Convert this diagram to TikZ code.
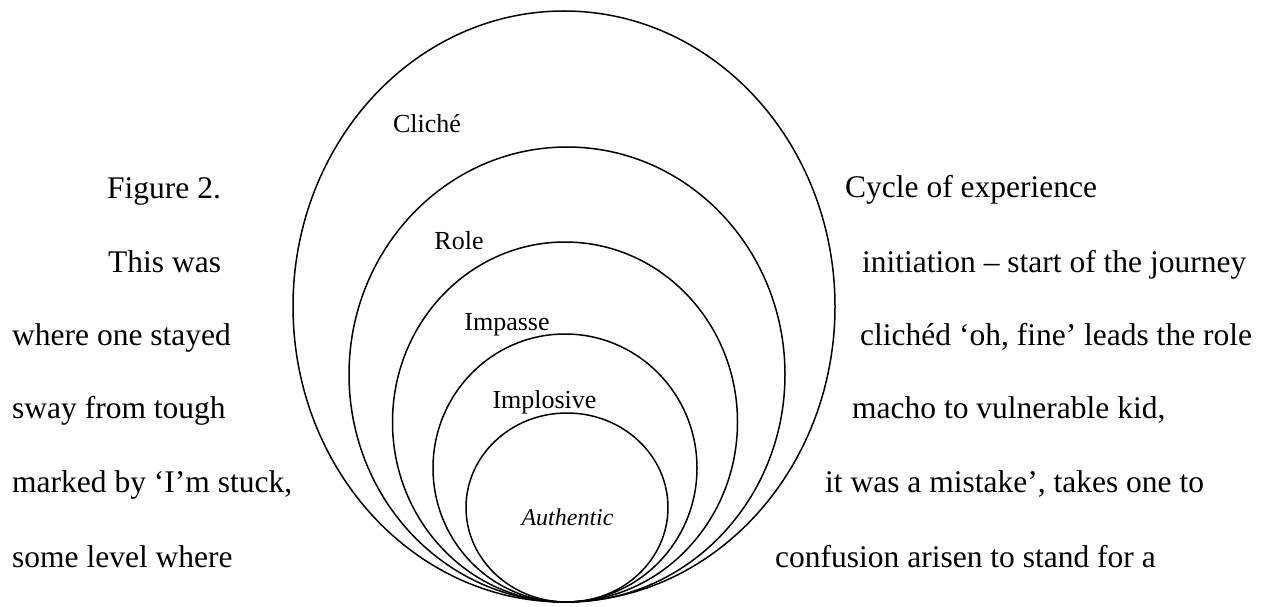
\documentclass[tikz,border=0pt]{standalone}
\usepackage{fontspec}
\setmainfont{Liberation Serif}
\begin{document}
\begin{tikzpicture}[x=1pt,y=-1pt,
  ring/.style={draw=black,line width=1.5pt},
  body/.style={anchor=base west,inner sep=0pt,font=\fontsize{31.5}{36}\selectfont},
  lbl/.style={anchor=base,inner sep=0pt,font=\fontsize{26}{30}\selectfont},
  lblit/.style={anchor=base,inner sep=0pt,font=\fontsize{24}{28}\selectfont\itshape}]
\useasboundingbox[fill=white] (0,0) rectangle (1270,607);
% nested ellipses, all touching at the bottom
\draw[ring] (564,306.5) ellipse [x radius=271,y radius=295.5];
\draw[ring] (567,374.5) ellipse [x radius=218,y radius=227.5];
\draw[ring] (565,422) ellipse [x radius=172.5,y radius=180];
\draw[ring] (565,468) ellipse [x radius=132,y radius=134];
\draw[ring] (567,507.5) ellipse [x radius=101,y radius=94.5];
% ring labels
\node[lbl] (cliche) at (427,133) {Cliché};
\node[lbl] (role) at (459,249) {Role};
\node[lbl] (impasse) at (507,330) {Impasse};
\node[lbl] (implosive) at (544.5,408) {Implosive};
\node[lblit] (authentic) at (567.5,525) {Authentic};
% left column
\node[body] (l1) at (107,199) {Figure 2.};
\node[body] (l2) at (108,272) {This was};
\node[body] (l3) at (12,345) {where one stayed};
\node[body] (l4) at (12,418) {sway from tough};
\node[body] (l5) at (12,492) {marked by ‘I’m stuck,};
\node[body] (l6) at (12,567) {some level where};
% right column
\node[body] (r1) at (845,198) {Cycle of experience};
\node[body] (r2) at (862,272) {initiation – start of the journey};
\node[body] (r3) at (860,345) {clichéd ‘oh, fine’ leads the role};
\node[body] (r4) at (852,418) {macho to vulnerable kid,};
\node[body] (r5) at (825,492) {it was a mistake’, takes one to};
\node[body] (r6) at (775,567) {confusion arisen to stand for a};
\end{tikzpicture}
\end{document}
